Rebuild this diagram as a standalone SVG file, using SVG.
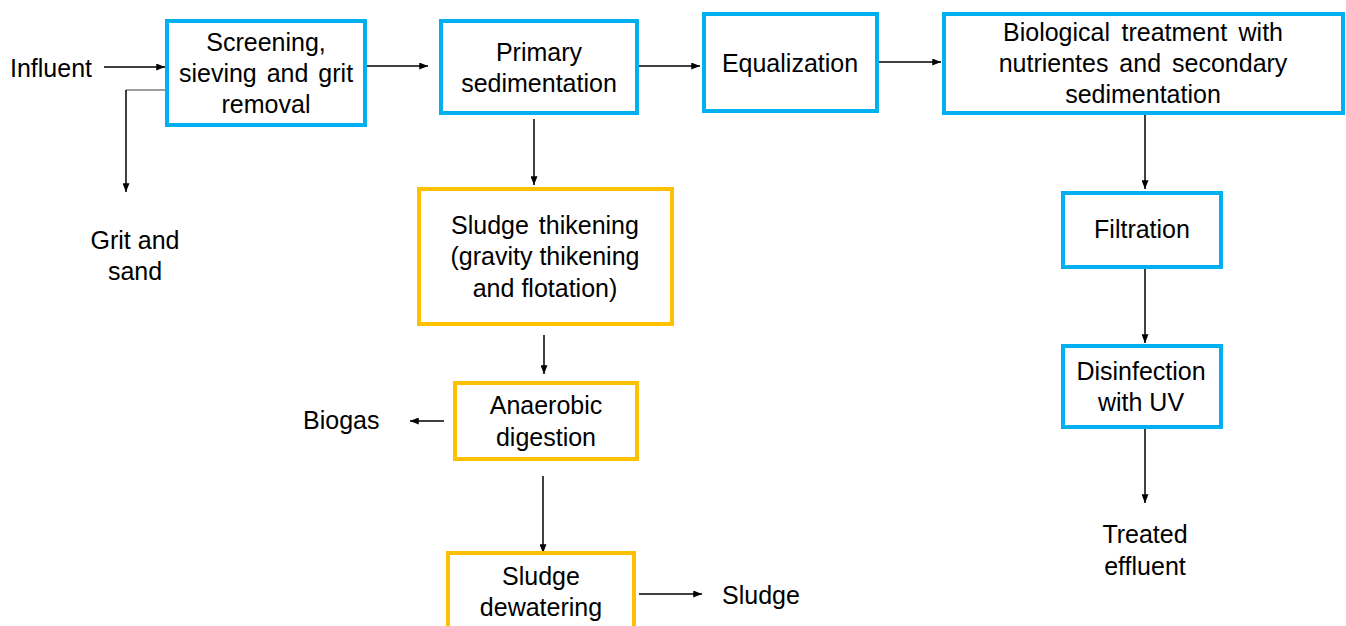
<svg xmlns="http://www.w3.org/2000/svg" width="1346" height="626" viewBox="0 0 1346 626">
<style>
text{font-family:"Liberation Sans",Arial,sans-serif;font-size:25px;fill:#000;}
.c{text-anchor:middle;}
.blue{fill:#fff;stroke:#00B0F0;stroke-width:4;}
.orange{fill:#fff;stroke:#FFC000;stroke-width:4;}
.ln{stroke:#000;stroke-width:1.5;fill:none;}
.arr{marker-end:url(#ah);}
</style>
<defs>
<marker id="ah" viewBox="0 0 10 8" refX="10" refY="4" markerWidth="9" markerHeight="7" markerUnits="userSpaceOnUse" orient="auto">
<path d="M0,0 L10,4 L0,8 z" fill="#000"/>
</marker>
</defs>
<rect width="1346" height="626" fill="#fff"/>
<g id="connectors">
<line class="ln arr" x1="104" y1="67" x2="165" y2="67"/>
<line class="ln arr" x1="367" y1="66" x2="428" y2="66"/>
<line class="ln arr" x1="639" y1="66" x2="700" y2="66"/>
<line class="ln arr" x1="879" y1="62" x2="941" y2="62"/>
<line class="ln arr" x1="1145" y1="115" x2="1145" y2="189"/>
<line class="ln arr" x1="1145" y1="269" x2="1145" y2="343"/>
<line class="ln arr" x1="1145" y1="429" x2="1145" y2="503"/>
<line class="ln arr" x1="534" y1="119" x2="534" y2="185"/>
<line class="ln arr" x1="544" y1="335" x2="544" y2="374"/>
<line class="ln arr" x1="444" y1="421" x2="410" y2="421"/>
<line class="ln arr" x1="543" y1="476" x2="543" y2="553"/>
<line class="ln arr" x1="639" y1="594" x2="702" y2="594"/>
<line x1="165" y1="90" x2="126" y2="90" stroke="#7f7f7f" stroke-width="1.5"/>
<line class="ln arr" x1="126" y1="90" x2="126" y2="192"/>
</g>
<g id="influent"><text x="10" y="77">Influent</text></g>
<g id="screening">
<rect class="blue" x="167" y="21" width="198" height="104"/>
<text class="c" x="266" y="51">Screening,</text>
<text class="c" x="266" y="82" word-spacing="3">sieving and grit</text>
<text class="c" x="266" y="113">removal</text>
</g>
<g id="grit"><text class="c" x="135" y="249">Grit and</text><text class="c" x="135" y="280">sand</text></g>
<g id="primary">
<rect class="blue" x="441" y="21" width="196" height="92"/>
<text class="c" x="539" y="61">Primary</text>
<text class="c" x="539" y="92">sedimentation</text>
</g>
<g id="equalization">
<rect class="blue" x="704" y="14" width="173" height="97"/>
<text class="c" x="790" y="72">Equalization</text>
</g>
<g id="biological">
<rect class="blue" x="944" y="14" width="399" height="99"/>
<text class="c" x="1143" y="41" word-spacing="4.5">Biological treatment with</text>
<text class="c" x="1143" y="72" word-spacing="4">nutrientes and secondary</text>
<text class="c" x="1143" y="103">sedimentation</text>
</g>
<g id="filtration">
<rect class="blue" x="1063" y="193" width="158" height="74"/>
<text class="c" x="1142" y="238">Filtration</text>
</g>
<g id="disinfection">
<rect class="blue" x="1063" y="346" width="158" height="81"/>
<text class="c" x="1141" y="380">Disinfection</text>
<text class="c" x="1141" y="411">with UV</text>
</g>
<g id="treated"><text class="c" x="1145" y="543">Treated</text><text class="c" x="1145" y="575">effluent</text></g>
<g id="thickening">
<rect class="orange" x="419" y="189" width="253" height="135"/>
<text class="c" x="545" y="234" word-spacing="3">Sludge thikening</text>
<text class="c" x="545" y="265">(gravity thikening</text>
<text class="c" x="545" y="297">and flotation)</text>
</g>
<g id="anaerobic">
<rect class="orange" x="455" y="383" width="182" height="76"/>
<text class="c" x="546" y="414">Anaerobic</text>
<text class="c" x="546" y="446">digestion</text>
</g>
<g id="biogas"><text x="303" y="429">Biogas</text></g>
<g id="dewatering">
<rect class="orange" x="448" y="553" width="186" height="82"/>
<text class="c" x="541" y="585">Sludge</text>
<text class="c" x="541" y="616">dewatering</text>
</g>
<g id="sludge"><text x="722" y="604">Sludge</text></g>
</svg>
